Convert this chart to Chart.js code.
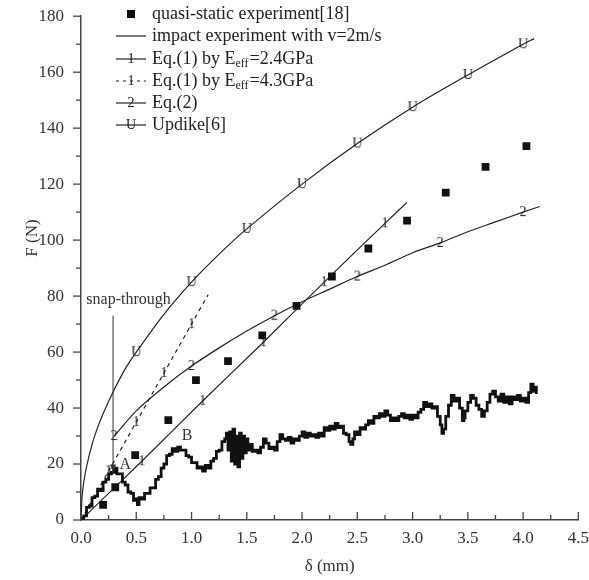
<!DOCTYPE html>
<html>
<head>
<meta charset="utf-8">
<script src="https://cdn.jsdelivr.net/npm/chart.js@4.4.0/dist/chart.umd.min.js"></script>
<style>
  html, body { margin: 0; padding: 0; background: #fff; }
  #wrap { width: 589px; height: 580px; }
</style>
</head>
<body>
<div id="wrap"><canvas id="chart"></canvas></div>
<script>
// quasi-static experiment [18]
const quasiX = [0.2, 0.31, 0.49, 0.79, 1.04, 1.33, 1.64, 1.95, 2.27, 2.6, 2.95, 3.3, 3.66, 4.03];
const quasiF = [5.4, 11.7, 23.2, 35.7, 50, 56.8, 66, 76.5, 87, 97, 107, 117, 126.2, 133.6];

// impact experiment with v=2m/s  [delta, F]
const impactCurve = [
  [0,0],[0.025,1.5],[0.05,4.5],[0.075,5],[0.1,8],[0.125,8.5],[0.15,11],[0.175,10.5],[0.2,13.5],
  [0.225,14.5],[0.25,16.5],[0.275,17],[0.3,18.5],[0.325,16.5],[0.35,16.5],[0.375,13.5],[0.4,12.5],
  [0.425,10],[0.45,9.5],[0.475,7],[0.5,7.5],[0.51,5.5],[0.525,8],[0.55,7.5],[0.575,9.5],[0.6,9.5],
  [0.625,11.5],[0.65,11.5],[0.675,14.5],[0.7,15.5],[0.725,18.5],[0.75,20],[0.775,23],[0.8,23.5],
  [0.825,25.5],[0.85,24.5],[0.875,26],[0.9,25],[0.925,25],[0.95,23],[0.975,22.5],[1.0,20.5],
  [1.025,20.5],[1.05,18.5],[1.075,19],[1.1,17.5],[1.125,19.5],[1.15,18.5],[1.175,21],[1.2,22],
  [1.225,24.5],[1.25,25],[1.275,28],[1.3,29],[1.315,31],[1.33,25],[1.345,31.5],[1.36,21],[1.375,32.5],
  [1.39,20],[1.405,30],[1.42,19],[1.435,31],[1.45,22],[1.465,30],[1.48,24],[1.495,29],[1.51,25],
  [1.525,27],[1.55,24.5],[1.575,25],[1.6,24],[1.625,26],[1.65,29],[1.675,27.5],
  [1.7,25.5],[1.725,26],[1.75,25],[1.775,28],[1.8,30.5],[1.825,29],[1.85,28.5],[1.875,29.5],[1.9,27.5],
  [1.925,29],[1.95,28.5],[1.975,30],[2.0,31.5],[2.025,29.5],[2.05,31],[2.075,30],[2.1,30.5],[2.125,29.5],
  [2.15,31],[2.175,30],[2.2,33],[2.225,32],[2.25,33.5],[2.275,32.5],[2.3,34.5],[2.325,33],[2.35,33.5],
  [2.375,31],[2.4,30.5],[2.425,28],[2.44,27],[2.46,29],[2.475,31.5],[2.5,30.5],[2.525,33],[2.55,32.5],
  [2.575,34],[2.6,35.5],[2.625,34.5],[2.65,37],[2.675,36.5],[2.7,38],[2.725,37],[2.75,39],[2.775,37.5],
  [2.8,35.5],[2.825,36.5],[2.85,35.5],[2.875,37],[2.9,38],[2.925,36.5],[2.95,37.5],[2.975,36],[3.0,37.5],
  [3.025,36.5],[3.05,38.5],[3.075,39.5],[3.1,42],[3.125,40.5],[3.15,41.5],[3.175,40],[3.2,40.5],
  [3.225,37],[3.25,34],[3.265,31],[3.28,32.5],[3.3,37],[3.325,41],[3.35,44.5],[3.375,42.5],[3.4,43.5],
  [3.425,40],[3.45,35.5],[3.465,36.5],[3.475,39],[3.5,42],[3.525,44.5],[3.55,43.5],[3.575,41],[3.6,39.5],
  [3.625,37],[3.65,39],[3.675,42],[3.7,45],[3.725,46],[3.75,44],[3.775,42.5],[3.8,45],[3.825,42],
  [3.85,44],[3.875,41.5],[3.9,44],[3.925,43],[3.95,44.5],[3.975,42.5],[4.0,43.5],[4.025,42],[4.05,45.5],
  [4.07,48.5],[4.09,46],[4.11,47.5],[4.12,45]
];

// Eq.(1) by Eeff = 2.4GPa
const eq1aX = [0, 0.55, 1.1, 1.65, 2.2, 2.75, 2.95];
const eq1aF = [0, 21, 42.5, 63.5, 85, 106, 113.5];
const eq1aMarks = [1, 2, 3, 4, 5];

// Eq.(1) by Eeff = 4.3GPa
const eq1bX = [0, 0.25, 0.5, 0.75, 1.0, 1.15];
const eq1bF = [0, 17.5, 35, 52.5, 70, 80.5];
const eq1bMarks = [1, 2, 3, 4];

// Eq.(2)
const eq2X = [0.3, 0.5, 0.75, 1.0, 1.25, 1.5, 1.75, 2.0, 2.25, 2.5, 2.75, 3.0, 3.25, 3.5, 3.75, 4.0, 4.15];
const eq2F = [30, 39, 47.5, 55, 61.5, 67.5, 73, 78, 82.5, 87, 91, 95.5, 99, 103, 106.5, 110, 112];
const eq2Marks = [0, 3, 6, 9, 12, 15];

// Updike [6]
const updX = [0, 0.01, 0.025, 0.05, 0.1, 0.15, 0.2, 0.3, 0.4, 0.5, 0.75, 1.0, 1.25, 1.5, 2.0, 2.5, 3.0, 3.5, 4.0, 4.1];
const updF = [0, 8.5, 13.5, 19, 27, 33, 38, 46.5, 54, 60, 73.5, 85, 95, 104, 120, 134.5, 147.5, 159, 170, 172];
const updMarks = [9, 11, 13, 14, 15, 16, 17, 18];

const xTicks = [0, 0.5, 1.0, 1.5, 2.0, 2.5, 3.0, 3.5, 4.0, 4.5];
const yTicks = [0, 20, 40, 60, 80, 100, 120, 140, 160, 180];

const legendLabels = [
  'quasi-static experiment[18]',
  'impact experiment with v=2m/s',
  ['Eq.(1) by E', 'eff', '=2.4GPa'],
  ['Eq.(1) by E', 'eff', '=4.3GPa'],
  'Eq.(2)',
  'Updike[6]'
];

const SERIF = '"Liberation Serif", "DejaVu Serif", serif';
const INK = '#222';

function glyph(ch) {
  const cv = document.createElement('canvas');
  cv.width = 14; cv.height = 16;
  const g = cv.getContext('2d');
  g.font = '14px ' + SERIF;
  g.fillStyle = '#1a1a1a';
  g.textAlign = 'center';
  g.textBaseline = 'middle';
  g.fillText(ch, 7, 8.5);
  return cv;
}
const g1 = glyph('1'), g2 = glyph('2'), gU = glyph('U');

const zip = (xs, ys) => xs.map((x, i) => ({ x: x, y: ys[i] }));
const marked = marks => ctx => marks.includes(ctx.dataIndex) ? 4 : 0;

const lineSet = (xs, ys, marks, g, dash) => ({
  data: zip(xs, ys),
  showLine: true,
  borderColor: INK,
  borderWidth: 1.2,
  borderDash: dash || [],
  pointStyle: g,
  pointRadius: marked(marks),
  pointHoverRadius: 0,
  tension: 0.3
});

const decorPlugin = {
  id: 'decor',
  afterDatasetsDraw(chart) {
    const { ctx, scales: { x, y } } = chart;
    const left = x.left, bottom = y.bottom;
    ctx.save();
    ctx.strokeStyle = '#444';
    ctx.lineWidth = 1.3;
    // x ticks point up into the plot
    for (let i = 0; i <= 18; i++) {
      const px = x.getPixelForValue(i * 0.25);
      const len = i % 2 === 0 ? 8 : 5;
      ctx.beginPath(); ctx.moveTo(px, bottom); ctx.lineTo(px, bottom - len); ctx.stroke();
    }
    // y ticks point left
    for (let i = 0; i <= 18; i++) {
      const py = y.getPixelForValue(i * 10);
      const len = i % 2 === 0 ? 8 : 5;
      ctx.beginPath(); ctx.moveTo(left, py); ctx.lineTo(left - len, py); ctx.stroke();
    }

    // snap-through annotation
    ctx.strokeStyle = '#333';
    ctx.lineWidth = 1;
    const sx = x.getPixelForValue(0.29);
    const sTop = y.getPixelForValue(73), sTip = y.getPixelForValue(17);
    ctx.beginPath(); ctx.moveTo(sx, sTop); ctx.lineTo(sx, sTip); ctx.stroke();
    ctx.fillStyle = '#333';
    ctx.beginPath(); ctx.moveTo(sx, sTip); ctx.lineTo(sx - 3, sTip - 8); ctx.lineTo(sx + 3, sTip - 8); ctx.closePath(); ctx.fill();

    ctx.fillStyle = '#333';
    ctx.font = '16px ' + SERIF;
    ctx.textAlign = 'center';
    ctx.textBaseline = 'middle';
    ctx.fillText('snap-through', x.getPixelForValue(0.43), y.getPixelForValue(78.5));
    ctx.fillText('A', x.getPixelForValue(0.40), y.getPixelForValue(19.6));
    ctx.fillText('B', x.getPixelForValue(0.96), y.getPixelForValue(30));

    // axis titles
    ctx.font = '17px ' + SERIF;
    ctx.fillText('\u03b4 (mm)', (x.left + x.right) / 2, 567);
    ctx.save();
    ctx.translate(33, 238);
    ctx.rotate(-Math.PI / 2);
    ctx.fillText('F (N)', 0, 0);
    ctx.restore();

    // legend
    const rows = [14, 36, 59, 81, 103, 125];
    const sx0 = 116, sx1 = 146, gx = 131, tx = 152;
    const glyphs = [null, null, g1, g1, g2, gU];
    rows.forEach((ry, i) => {
      ctx.strokeStyle = INK;
      ctx.lineWidth = 1.2;
      if (i === 0) {
        ctx.fillStyle = '#111';
        ctx.fillRect(gx - 4, ry - 4, 8, 8);
      } else {
        ctx.setLineDash(i === 3 ? [3, 4] : []);
        ctx.beginPath(); ctx.moveTo(sx0, ry); ctx.lineTo(sx1, ry); ctx.stroke();
        ctx.setLineDash([]);
        if (glyphs[i]) ctx.drawImage(glyphs[i], gx - 7, ry - 8);
      }
      ctx.fillStyle = '#222';
      ctx.textAlign = 'left';
      ctx.textBaseline = 'middle';
      const lab = legendLabels[i];
      ctx.font = '18px ' + SERIF;
      if (typeof lab === 'string') {
        ctx.fillText(lab, tx, ry);
      } else {
        ctx.fillText(lab[0], tx, ry);
        let cx = tx + ctx.measureText(lab[0]).width;
        ctx.font = '12px ' + SERIF;
        ctx.fillText(lab[1], cx, ry + 5);
        cx += ctx.measureText(lab[1]).width + 1;
        ctx.font = '18px ' + SERIF;
        ctx.fillText(lab[2], cx, ry);
      }
    });
    ctx.restore();
  }
};

const tickFont = { family: SERIF, size: 17 };
// invisible library tick marks, only used to offset the labels
const hiddenGrid = len => ({
  display: true, drawOnChartArea: false, drawTicks: true,
  tickLength: len, tickColor: 'rgba(0,0,0,0)'
});

new Chart(document.getElementById('chart'), {
  type: 'scatter',
  data: {
    datasets: [
      {
        data: zip(quasiX, quasiF),
        pointStyle: 'rect',
        pointRadius: 5.5,
        backgroundColor: '#111',
        borderWidth: 0,
        showLine: false
      },
      {
        data: impactCurve.map(p => ({ x: p[0], y: p[1] })),
        showLine: true,
        stepped: true,
        borderColor: '#111',
        borderWidth: 2.8,
        pointRadius: 0
      },
      lineSet(eq1aX, eq1aF, eq1aMarks, g1),
      lineSet(eq1bX, eq1bF, eq1bMarks, g1, [4, 4]),
      lineSet(eq2X, eq2F, eq2Marks, g2),
      lineSet(updX, updF, updMarks, gU)
    ]
  },
  options: {
    responsive: true,
    maintainAspectRatio: false,
    animation: false,
    layout: { padding: 0 },
    plugins: { legend: { display: false }, tooltip: { enabled: false } },
    scales: {
      x: {
        type: 'linear',
        min: 0, max: 4.5,
        afterBuildTicks: s => { s.ticks = xTicks.map(v => ({ value: v })); },
        afterFit: s => { s.height = 60; },
        ticks: { font: tickFont, color: '#333', padding: 0, callback: v => v.toFixed(1), maxRotation: 0 },
        grid: hiddenGrid(8),
        border: { display: true, color: '#444', width: 1.5 }
      },
      y: {
        min: 0, max: 180,
        afterBuildTicks: s => { s.ticks = yTicks.map(v => ({ value: v })); },
        afterFit: s => { s.width = 81; },
        ticks: { font: tickFont, color: '#333', padding: 6 },
        grid: hiddenGrid(11),
        border: { display: true, color: '#444', width: 1.5 }
      }
    }
  },
  plugins: [decorPlugin]
});
</script>
</body>
</html>
